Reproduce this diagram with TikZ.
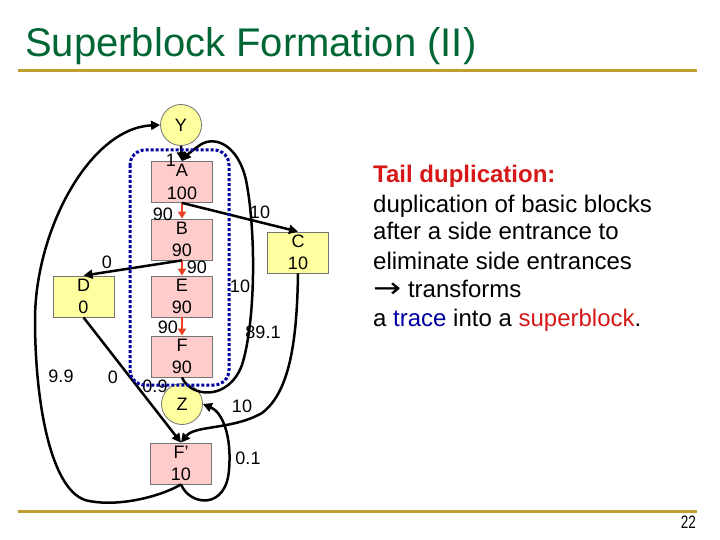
\documentclass[tikz,border=0pt]{standalone}
\usepackage{fontspec}
\setmainfont{Liberation Sans}
\newfontfamily\arrowfont{DejaVu Sans}
\usetikzlibrary{arrows.meta}
\definecolor{titlegreen}{RGB}{0,102,51}
\definecolor{rulegold}{RGB}{192,158,48}
\definecolor{pinkfill}{RGB}{255,204,204}
\definecolor{yellowfill}{RGB}{255,255,160}
\definecolor{arrowred}{RGB}{232,64,32}
\definecolor{textred}{RGB}{214,24,24}
\definecolor{traceblue}{RGB}{0,0,160}
\definecolor{dotblue}{RGB}{0,0,160}
\newcommand{\nfont}{\fontsize{18}{22.5}\selectfont}
\begin{document}
\begin{tikzpicture}[x=1pt,y=-1pt,
  blk/.style={draw=black!55, line width=0.8pt, fill=pinkfill, minimum width=61pt, minimum height=41pt, inner sep=0pt, align=center, font=\nfont},
  ybox/.style={blk, fill=yellowfill},
  circ/.style={circle, draw=black!55, line width=0.8pt, fill=yellowfill, minimum size=41pt, inner sep=0pt, font=\nfont},
  conn/.style={line width=2.5pt, -{Triangle[length=9pt,width=9pt]}},
  redarr/.style={line width=2.5pt, draw=arrowred, -{Triangle[length=7pt,width=8pt]}, arrowred},
  lbl/.style={font=\nfont, inner sep=0pt},
  txt/.style={anchor=base west, inner sep=0pt, font=\fontsize{24}{28}\selectfont},
  trace/.style={draw=dotblue, line width=3pt, dash pattern=on 3pt off 2pt, rounded corners=15pt}
]
\useasboundingbox (0,0) rectangle (720,540);
% title and rules
\node[anchor=base west, inner sep=0pt, font=\fontsize{40}{48}\selectfont, text=titlegreen] (title) at (25,57) {Superblock Formation (II)};
\draw[rulegold, line width=3pt] (18,71) -- (697,71);
\draw[rulegold, line width=3pt] (18,511) -- (697,511);
\node[anchor=base east, inner sep=0pt] (pg) at (696,528) {\scalebox{0.75}[1]{\fontsize{18}{18}\selectfont 22}};

% nodes
\node[circ] (Y) at (181,125) {Y};
\node[blk] (A) at (182,182) {A\\100};
\node[blk] (B) at (182,239.5) {B\\90};
\node[blk] (E) at (182,296.5) {E\\90};
\node[blk] (F) at (182,356.5) {F\\90};
\node[circ] (Z) at (182,404) {Z};
\node[blk] (Fp) at (181,463.5) {F’\\10};
\node[ybox] (D) at (83.5,296.5) {D\\0};
\node[ybox] (C) at (298,252.5) {C\\10};

% edges
\draw[conn] (Y.south) -- (A.north);
\draw[redarr] (A.south) -- (B.north);
\draw[redarr] (B.south) -- (E.north);
\draw[redarr] (E.south) -- (F.north);
\draw[conn] (A.south) -- (C.north);
\draw[conn] (B.south) -- (D.north);
\draw[conn] (D.south) -- (Fp.north);
\draw[conn] (F.south) .. controls (190,397) and (228,402) .. (242,365)
  .. controls (256,320) and (256,230) .. (246,180)
  .. controls (238,145) and (215,135) .. (200,145)
  .. controls (193,150) and (187,155) .. (A.north);
\draw[conn] (Fp.south) .. controls (160,497) and (115,508) .. (85,500)
  .. controls (50,488) and (35,400) .. (35,320)
  .. controls (35,230) and (90,128) .. (Y.west);
\draw[conn] (Fp.south) .. controls (190,506) and (226,510) .. (229,470)
  .. controls (232,435) and (222,412) .. (Z.east);
\draw[conn] (C.south) .. controls (297,340) and (290,392) .. (262,413)
  .. controls (232,430) and (195,425) .. (Fp.north);

% edge labels
\node[lbl] (l1) at (171,160) {1};
\node[lbl] (l2) at (163,214) {90};
\node[lbl] (l3) at (260,212) {10};
\node[lbl] (l4) at (197,267) {90};
\node[lbl] (l5) at (107,262) {0};
\node[lbl] (l6) at (240,286) {10};
\node[lbl] (l7) at (168,327) {90};
\node[lbl] (l8) at (263,332) {89.1};
\node[lbl] (l9) at (61,376) {9.9};
\node[lbl] (l10) at (113,377) {0};
\node[lbl] (l11) at (155,386) {0.9};
\node[lbl] (l12) at (242,406) {10};
\node[lbl] (l13) at (248,458) {0.1};

% trace region
\draw[trace] (130,150) rectangle (229,385);

% right text
\node[txt] (t1) at (373,183) {\textcolor{textred}{\bfseries Tail duplication:}};
\node[txt] (t2) at (373,212) {duplication of basic blocks};
\node[txt] (t3) at (373,240) {after a side entrance to};
\node[txt] (t4) at (373,269) {eliminate side entrances};
\node[txt] (t5) at (373,297) {\scalebox{1.4}[1.15]{\arrowfont →} transforms};
\node[txt] (t6) at (373,326) {a \textcolor{traceblue}{trace} into a \textcolor{textred}{superblock}.};
\end{tikzpicture}
\end{document}
